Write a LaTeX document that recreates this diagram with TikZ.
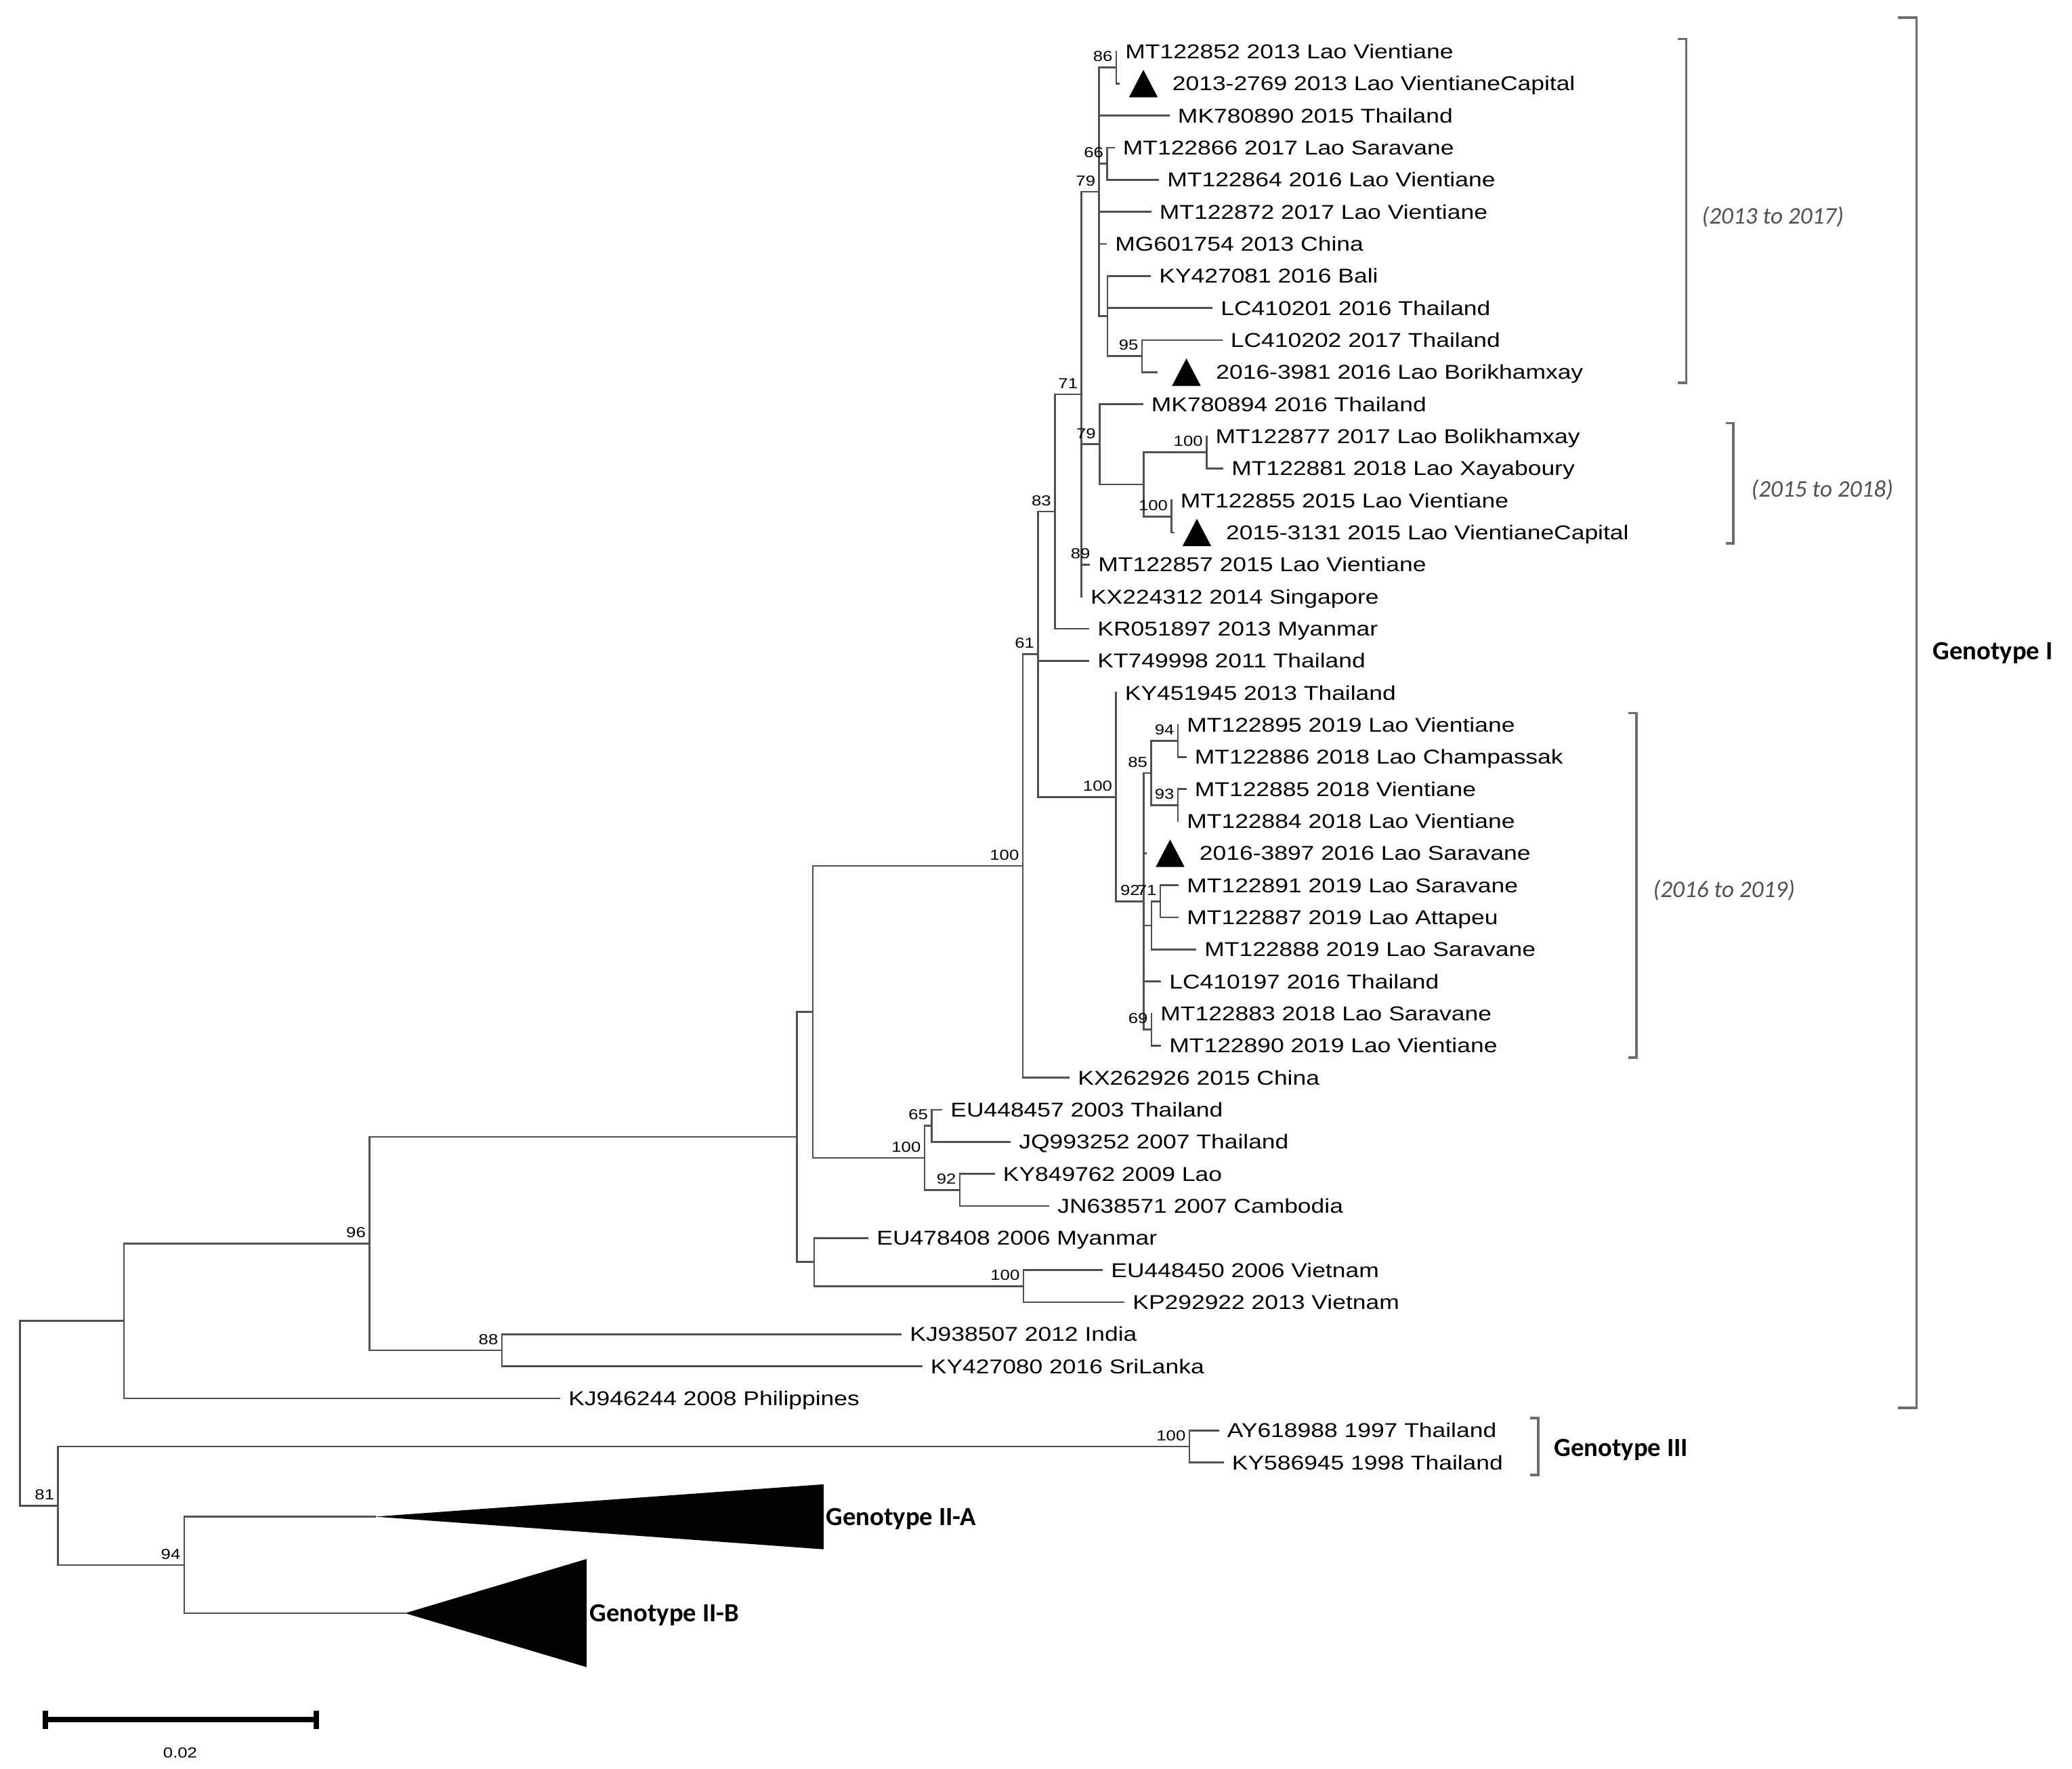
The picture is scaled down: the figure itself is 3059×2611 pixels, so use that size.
\documentclass[tikz,border=0pt]{standalone}
\usepackage{fontspec}
\setmainfont{Liberation Sans}
\newfontfamily\tipfont[FakeStretch=1.2]{Liberation Sans}
\newfontfamily\genofont{Carlito}
\usetikzlibrary{positioning}
\definecolor{treegray}{RGB}{80,80,80}
\definecolor{bracegray}{RGB}{110,110,110}
\definecolor{notegray}{RGB}{80,80,80}

\tikzset{
    branch/.style={draw=treegray, line width=0.75pt, line cap=rect},
    isolink/.style={branch, shorten >=0.15cm},
    tip/.style={anchor=west, font=\tipfont\fontsize{8.4}{10}\selectfont, inner xsep=3.6pt, inner ysep=0pt, text height=6pt, text depth=0pt},
    boot/.style={anchor=south east, font=\tipfont\fontsize{6.1}{7}\selectfont, inner sep=0pt, text depth=0pt, xshift=-1.4pt, yshift=2.3pt},
    iso/.style={minimum width=0.41cm, minimum height=0.39cm, inner sep=0pt},
    brace/.style={draw=bracegray, line width=0.9pt},
    geno/.style={anchor=west, font=\genofont\bfseries\fontsize{11}{13}\selectfont, inner sep=0pt, text height=7.1pt, text depth=0pt},
    years/.style={anchor=west, font=\genofont\itshape\fontsize{10}{12}\selectfont, text=notegray, inner sep=0pt, text height=6.3pt, text depth=0pt}
}

\begin{document}
\begin{tikzpicture}[x=0.01cm, y=-0.01cm]
    \useasboundingbox (0,0) rectangle (3059,2611);

    % Internal nodes
    \coordinate (nRoot) at (29.5,2086);
    \coordinate (nA) at (183,1949.7);
    \coordinate (nB) at (85.7,2222.3);
    \coordinate (nC) at (545.5,1835.5);
    \coordinate (nD) at (1176.5,1678.1);
    \coordinate (nE) at (741,1992.9);
    \coordinate (nF) at (1200,1493.5);
    \coordinate (nG) at (1202,1862.7);
    \coordinate (nH) at (1510,1278.1);
    \coordinate (nI) at (1365,1708.9);
    \coordinate (nJ) at (1375.5,1661.6);
    \coordinate (nK) at (1417,1756.3);
    \coordinate (nL) at (1511,1898.3);
    \coordinate (nM) at (1756,2134.9);
    \coordinate (nN) at (272,2309.8);
    \coordinate (nO) at (1532.5,965.7);
    \coordinate (nP) at (1557.4,754.9);
    \coordinate (nQ) at (1647.5,1176.4);
    \coordinate (nR) at (1596.7,581.9);
    \coordinate (nT) at (1623.4,655.8);
    \coordinate (nU) at (1688.3,715);
    \coordinate (nV) at (1648,99.7);
    \coordinate (nW) at (1622.7,283.1);
    \coordinate (nX) at (1635,466.5);
    \coordinate (nY) at (1634.5,241.7);
    \coordinate (nZ) at (1686,525.7);
    \coordinate (nAA) at (1781.3,667.7);
    \coordinate (nAB) at (1729.6,762.3);
    \coordinate (nAC) at (1688.3,1330.2);
    \coordinate (nAD) at (1699.5,1140.9);
    \coordinate (nAE) at (1700,1519.6);
    \coordinate (nAF) at (1700,1365.8);
    \coordinate (nAG) at (1739,1093.6);
    \coordinate (nAH) at (1739,1188.3);
    \coordinate (nAI) at (1713,1330.3);

    % Tips
    \node[tip] (mt122852) at (1648,76) {MT122852 2013 Lao Vientiane};
    \node[iso] (v2769) at (1688,123.3) {};
    \node[tip] (l2769) at (1717.5,123.3) {2013-2769 2013 Lao VientianeCapital};
    \node[tip] (mk780890) at (1725.6,170.7) {MK780890 2015 Thailand};
    \node[tip] (mt122866) at (1644.5,218) {MT122866 2017 Lao Saravane};
    \node[tip] (mt122864) at (1710,265.3) {MT122864 2016 Lao Vientiane};
    \node[tip] (mt122872) at (1698.5,312.7) {MT122872 2017 Lao Vientiane};
    \node[tip] (mg601754) at (1633,360) {MG601754 2013 China};
    \node[tip] (ky427081) at (1698,407.3) {KY427081 2016 Bali};
    \node[tip] (lc410201) at (1789,454.6) {LC410201 2016 Thailand};
    \node[tip] (lc410202) at (1803.5,502) {LC410202 2017 Thailand};
    \node[iso] (v3981) at (1751.5,549.3) {};
    \node[tip] (l3981) at (1782,549.3) {2016-3981 2016 Lao Borikhamxay};
    \node[tip] (mk780894) at (1686.5,596.6) {MK780894 2016 Thailand};
    \node[tip] (mt122877) at (1781.3,644) {MT122877 2017 Lao Bolikhamxay};
    \node[tip] (mt122881) at (1805,691.3) {MT122881 2018 Lao Xayaboury};
    \node[tip] (mt122855) at (1729.6,738.6) {MT122855 2015 Lao Vientiane};
    \node[iso] (v3131) at (1767,786) {};
    \node[tip] (l3131) at (1796.7,786) {2015-3131 2015 Lao VientianeCapital};
    \node[tip] (mt122857) at (1608,833.3) {MT122857 2015 Lao Vientiane};
    \node[tip] (kx224312) at (1596.7,880.6) {KX224312 2014 Singapore};
    \node[tip] (kr051897) at (1607,927.9) {KR051897 2013 Myanmar};
    \node[tip] (kt749998) at (1607,975.3) {KT749998 2011 Thailand};
    \node[tip] (ky451945) at (1647.5,1022.6) {KY451945 2013 Thailand};
    \node[tip] (mt122895) at (1739,1069.9) {MT122895 2019 Lao Vientiane};
    \node[tip] (mt122886) at (1750.5,1117.3) {MT122886 2018 Lao Champassak};
    \node[tip] (mt122885) at (1750.5,1164.6) {MT122885 2018 Vientiane};
    \node[tip] (mt122884) at (1739,1211.9) {MT122884 2018 Lao Vientiane};
    \node[iso] (v3897) at (1727.5,1259.3) {};
    \node[tip] (l3897) at (1757.6,1259.3) {2016-3897 2016 Lao Saravane};
    \node[tip] (mt122891) at (1739,1306.6) {MT122891 2019 Lao Saravane};
    \node[tip] (mt122887) at (1739,1353.9) {MT122887 2019 Lao Attapeu};
    \node[tip] (mt122888) at (1765,1401.3) {MT122888 2019 Lao Saravane};
    \node[tip] (lc410197) at (1713,1448.6) {LC410197 2016 Thailand};
    \node[tip] (mt122883) at (1700,1495.9) {MT122883 2018 Lao Saravane};
    \node[tip] (mt122890) at (1713,1543.2) {MT122890 2019 Lao Vientiane};
    \node[tip] (kx262926) at (1578,1590.6) {KX262926 2015 China};
    \node[tip] (eu448457) at (1390,1637.9) {EU448457 2003 Thailand};
    \node[tip] (jq993252) at (1491,1685.2) {JQ993252 2007 Thailand};
    \node[tip] (ky849762) at (1467.5,1732.6) {KY849762 2009 Lao};
    \node[tip] (jn638571) at (1548,1779.9) {JN638571 2007 Cambodia};
    \node[tip] (eu478408) at (1281,1827.2) {EU478408 2006 Myanmar};
    \node[tip] (eu448450) at (1627,1874.6) {EU448450 2006 Vietnam};
    \node[tip] (kp292922) at (1659,1921.9) {KP292922 2013 Vietnam};
    \node[tip] (kj938507) at (1330,1969.2) {KJ938507 2012 India};
    \node[tip] (ky427080) at (1360.5,2016.5) {KY427080 2016 SriLanka};
    \node[tip] (kj946244) at (826,2063.9) {KJ946244 2008 Philippines};
    \node[tip] (ay618988) at (1798.5,2111.2) {AY618988 1997 Thailand};
    \node[tip] (ky586945) at (1805.5,2158.5) {KY586945 1998 Thailand};

    % Isolate marks
    \fill (v2769.south west) -- (v2769.south east) -- (v2769.north) -- cycle;
    \fill (v3981.south west) -- (v3981.south east) -- (v3981.north) -- cycle;
    \fill (v3131.south west) -- (v3131.south east) -- (v3131.north) -- cycle;
    \fill (v3897.south west) -- (v3897.south east) -- (v3897.north) -- cycle;

    % Collapsed genotype II clades
    \coordinate (apexIIA) at (553.6,2238.5);
    \coordinate (topIIA) at (1216,2190.8);
    \coordinate (botIIA) at (1216,2286.7);
    \coordinate (apexIIB) at (598,2381);
    \coordinate (topIIB) at (866,2301);
    \coordinate (botIIB) at (866,2460.6);
    \fill (apexIIA) -- (topIIA) -- (botIIA) -- cycle;
    \fill (apexIIB) -- (topIIB) -- (botIIB) -- cycle;
    \node[geno] (gIIA) at (1219,2238.7) {Genotype II-A};
    \node[geno] (gIIB) at (870,2381) {Genotype II-B};

    % Deep branches
    \draw[branch] (nRoot) |- (nA);
    \draw[branch] (nRoot) |- (nB);
    \draw[branch] (nA) |- (nC);
    \draw[branch] (nA) |- (kj946244.west);
    \draw[branch] (nC) |- (nD);
    \draw[branch] (nC) |- (nE);
    \draw[branch] (nE) |- (kj938507.west);
    \draw[branch] (nE) |- (ky427080.west);
    \draw[branch] (nB) |- (nM);
    \draw[branch] (nB) |- (nN);
    \draw[branch] (nM) |- (ay618988.west);
    \draw[branch] (nM) |- (ky586945.west);
    \draw[branch] (nN) |- (apexIIA);
    \draw[branch] (nN) |- (apexIIB);

    % Genotype I, older lineages
    \draw[branch] (nD) |- (nF);
    \draw[branch] (nD) |- (nG);
    \draw[branch] (nG) |- (eu478408.west);
    \draw[branch] (nG) |- (nL);
    \draw[branch] (nL) |- (eu448450.west);
    \draw[branch] (nL) |- (kp292922.west);
    \draw[branch] (nF) |- (nH);
    \draw[branch] (nF) |- (nI);
    \draw[branch] (nI) |- (nJ);
    \draw[branch] (nI) |- (nK);
    \draw[branch] (nJ) |- (eu448457.west);
    \draw[branch] (nJ) |- (jq993252.west);
    \draw[branch] (nK) |- (ky849762.west);
    \draw[branch] (nK) |- (jn638571.west);
    \draw[branch] (nH) |- (nO);
    \draw[branch] (nH) |- (kx262926.west);
    \draw[branch] (nO) |- (nP);
    \draw[branch] (nO) |- (kt749998.west);
    \draw[branch] (nO) |- (nQ);
    \draw[branch] (nP) |- (nR);
    \draw[branch] (nP) |- (kr051897.west);

    % 2013 to 2018 lineages
    \draw[branch] (nR) |- (nW);
    \draw[branch] (nR) |- (nT);
    \draw[branch] (nR) |- (mt122857.west);
    \draw[branch] (nR) |- (kx224312.west);
    \draw[branch] (nW) |- (nV);
    \draw[branch] (nW) |- (mk780890.west);
    \draw[branch] (nW) |- (nY);
    \draw[branch] (nW) |- (mt122872.west);
    \draw[branch] (nW) |- (mg601754.west);
    \draw[branch] (nW) |- (nX);
    \draw[branch] (nV) |- (mt122852.west);
    \draw[isolink] (nV) |- (v2769.west);
    \draw[branch] (nY) |- (mt122866.west);
    \draw[branch] (nY) |- (mt122864.west);
    \draw[branch] (nX) |- (ky427081.west);
    \draw[branch] (nX) |- (lc410201.west);
    \draw[branch] (nX) |- (nZ);
    \draw[branch] (nZ) |- (lc410202.west);
    \draw[isolink, shorten >=0.23cm] (nZ) |- (v3981.west);
    \draw[branch] (nT) |- (mk780894.west);
    \draw[branch] (nT) |- (nU);
    \draw[branch] (nU) |- (nAA);
    \draw[branch] (nU) |- (nAB);
    \draw[branch] (nAA) |- (mt122877.west);
    \draw[branch] (nAA) |- (mt122881.west);
    \draw[branch] (nAB) |- (mt122855.west);
    \draw[isolink, shorten >=0.135cm] (nAB) |- (v3131.west);

    % 2016 to 2019 lineages
    \draw[branch] (nQ) |- (ky451945.west);
    \draw[branch] (nQ) |- (nAC);
    \draw[branch] (nAC) |- (nAD);
    \draw[isolink] (nAC) |- (v3897.west);
    \draw[branch] (nAC) |- (nAF);
    \draw[branch] (nAC) |- (lc410197.west);
    \draw[branch] (nAC) |- (nAE);
    \draw[branch] (nAD) |- (nAG);
    \draw[branch] (nAD) |- (nAH);
    \draw[branch] (nAG) |- (mt122895.west);
    \draw[branch] (nAG) |- (mt122886.west);
    \draw[branch] (nAH) |- (mt122885.west);
    \draw[branch] (nAH) |- (mt122884.west);
    \draw[branch] (nAF) |- (nAI);
    \draw[branch] (nAF) |- (mt122888.west);
    \draw[branch] (nAI) |- (mt122891.west);
    \draw[branch] (nAI) |- (mt122887.west);
    \draw[branch] (nAE) |- (mt122883.west);
    \draw[branch] (nAE) |- (mt122890.west);

    % Bootstrap values
    \node[boot] (b86) at (nV) {86};
    \node[boot] (b66) at (nY) {66};
    \node[boot] (b79a) at (nW) {79};
    \node[boot] (b95) at (nZ) {95};
    \node[boot] (b71a) at (nR) {71};
    \node[boot] (b79b) at (nT) {79};
    \node[boot] (b100a) at (nAA) {100};
    \node[boot] (b100b) at (nAB) {100};
    \node[boot, xshift=2pt] (b89) at (mt122857.west) {89};
    \node[boot] (b83) at (nP) {83};
    \node[boot] (b61) at (nO) {61};
    \node[boot] (b100c) at (nH) {100};
    \node[boot] (b100d) at (nQ) {100};
    \node[boot] (b94a) at (nAG) {94};
    \node[boot] (b85) at (nAD) {85};
    \node[boot] (b93) at (nAH) {93};
    \node[boot] (b92a) at (nAC) {92};
    \node[boot] (b71b) at (nAI) {71};
    \node[boot] (b69) at (nAE) {69};
    \node[boot] (b65) at (nJ) {65};
    \node[boot] (b100e) at (nI) {100};
    \node[boot] (b92b) at (nK) {92};
    \node[boot] (b100f) at (nL) {100};
    \node[boot] (b96) at (nC) {96};
    \node[boot] (b88) at (nE) {88};
    \node[boot] (b100g) at (nM) {100};
    \node[boot] (b94b) at (nN) {94};
    \node[boot] (b81) at (nB) {81};

    % Brackets and groups
    \draw[brace] (2477,57.5) -- (2489.5,57.5) -- (2489.5,565) -- (2477,565);
    \node[years] (y1317) at (2512,319) {(2013 to 2017)};
    \draw[brace] (2548,624.5) -- (2559,624.5) -- (2559,802) -- (2548,802);
    \node[years] (y1518) at (2585,722) {(2015 to 2018)};
    \draw[brace] (2404,1052.5) -- (2416,1052.5) -- (2416,1561) -- (2404,1561);
    \node[years] (y1619) at (2440,1313.5) {(2016 to 2019)};
    \draw[brace] (2801.5,26) -- (2829.5,26) -- (2829.5,2078) -- (2801.5,2078);
    \node[geno] (gI) at (2853,961) {Genotype I};
    \draw[brace] (2259,2093) -- (2271,2093) -- (2271,2177) -- (2259,2177);
    \node[geno] (gIII) at (2294,2137) {Genotype III};

    % Scale bar
    \coordinate (sb0) at (67,2538);
    \coordinate (sb1) at (467,2538);
    \draw[line width=2.4pt] (sb0) -- (sb1);
    \draw[line width=2pt] (67,2525) -- (67,2552) (467,2525) -- (467,2552);
    \node[font=\tipfont\fontsize{6.1}{7}\selectfont, inner sep=0pt] (sblabel) at (266,2587) {0.02};
\end{tikzpicture}
\end{document}
